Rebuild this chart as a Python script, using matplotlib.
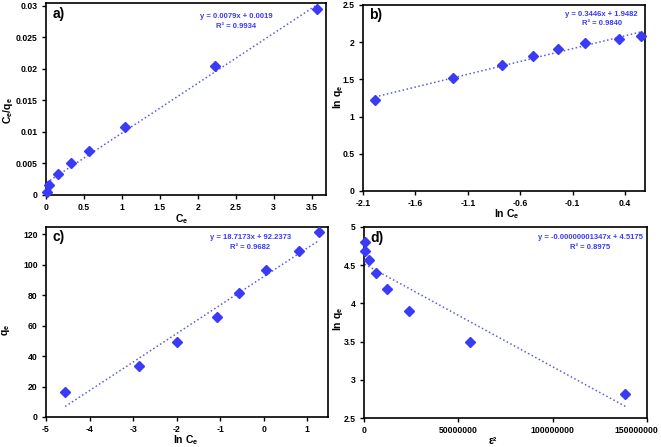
import numpy as np
import matplotlib
matplotlib.use("Agg")
import matplotlib.pyplot as plt
import matplotlib.transforms as mtrans

# Fonts
plt.rcParams['font.family'] = ['Liberation Sans', 'DejaVu Sans']
plt.rcParams['font.weight'] = 'bold'
plt.rcParams['mathtext.default'] = 'regular'

BLUE = "#3b3bf5"
LINE = "#5a5ae6"

# a) Langmuir: Ce/qe vs Ce
ce_a = [0.009, 0.046, 0.156, 0.33, 0.57, 1.04, 2.23, 3.57]
ceqe_a = [0.00055, 0.00166, 0.0033, 0.0050, 0.0070, 0.0108, 0.0204, 0.0294]
fit_a = (0.0079, 0.0019)
eq_a = ["y = 0.0079x + 0.0019", "R² = 0.9934"]
xt_a = [0, 0.5, 1, 1.5, 2, 2.5, 3, 3.5]
xl_a = ["0", "0.5", "1", "1.5", "2", "2.5", "3", "3.5"]
yt_a = [0, 0.005, 0.01, 0.015, 0.02, 0.025, 0.03]
yl_a = ["0", "0.005", "0.01", "0.015", "0.02", "0.025", "0.03"]

# b) Freundlich: ln qe vs ln Ce
x_b = [-1.985, -1.241, -0.773, -0.478, -0.241, 0.019, 0.342, 0.551]
y_b = [1.228, 1.523, 1.698, 1.819, 1.913, 1.985, 2.043, 2.088]
fit_b = (0.3446, 1.9482)
eq_b = ["y = 0.3446x + 1.9482", "R² = 0.9840"]
xt_b = [-2.1, -1.6, -1.1, -0.6, -0.1, 0.4]
xl_b = ["-2.1", "-1.6", "-1.1", "-0.6", "-0.1", "0.4"]
yt_b = [0, 0.5, 1, 1.5, 2, 2.5]
yl_b = ["0", "0.5", "1", "1.5", "2", "2.5"]

# c) Temkin: qe vs ln Ce
x_c = [-4.56, -2.86, -2.0, -1.08, -0.56, 0.04, 0.80, 1.27]
y_c = [16.6, 33.2, 49.4, 65.6, 81.5, 96.6, 108.9, 121.3]
fit_c = (18.7173, 92.2373)
eq_c = ["y = 18.7173x + 92.2373", "R² = 0.9682"]
xt_c = [-5, -4, -3, -2, -1, 0, 1]
xl_c = ["-5", "-4", "-3", "-2", "-1", "0", "1"]
yt_c = [0, 20, 40, 60, 80, 100, 120]
yl_c = ["0", "20", "40", "60", "80", "100", "120"]

# d) D-R: ln qe vs eps^2
x_d = [0.3e6, 0.6e6, 2.7e6, 6.2e6, 12.1e6, 24.1e6, 56.1e6, 138.6e6]
y_d = [4.80, 4.69, 4.57, 4.40, 4.19, 3.90, 3.50, 2.82]
fit_d = (-0.00000001347, 4.5175)
eq_d = ["y = -0.00000001347x + 4.5175", "R² = 0.8975"]
xt_d = [0, 50000000, 100000000, 150000000]
xl_d = ["0", "50000000", "100000000", "150000000"]
yt_d = [2.5, 3, 3.5, 4, 4.5, 5]
yl_d = ["2.5", "3", "3.5", "4", "4.5", "5"]

W, H = 661, 447


def make_axes(fig, l, r, t, b):
    return fig.add_axes([l / W, 1 - b / H, (r - l) / W, (b - t) / H])


def panel(ax, x, y, fit, eq, eq_pos, tag, xt, xl, yt, yl, xlim, ylim,
          xlabel, xlab_pos, ylabel, ylab_pos):
    ax.plot(x, y, linestyle="none", marker="D", ms=4.8, color=BLUE, zorder=3,
            clip_on=False)
    xs = np.array([min(x), max(x)])
    ax.plot(xs, fit[0] * xs + fit[1], linestyle=":", lw=1.1, color=LINE, zorder=2)
    ax.set_xlim(*xlim)
    ax.set_ylim(*ylim)
    ax.set_xticks(xt)
    ax.set_xticklabels(xl)
    ax.set_yticks(yt)
    ax.set_yticklabels(yl)
    ax.tick_params(direction="out", length=3, width=1, labelsize=6.2, pad=3)
    for lab in ax.get_xticklabels() + ax.get_yticklabels():
        lab.set_fontweight("bold")
    for s in ax.spines.values():
        s.set_linewidth(1.2)
    ax.text(eq_pos[0], eq_pos[1], eq[0], transform=ax.transAxes, ha="center",
            va="center", fontsize=5.5, color=BLUE, fontweight="bold")
    ax.text(eq_pos[0], eq_pos[1] - 0.05, eq[1], transform=ax.transAxes, ha="center",
            va="center", fontsize=5.5, color=BLUE, fontweight="bold")
    ax.text(0.022, 0.945, tag, transform=ax.transAxes, ha="left", va="center",
            fontsize=10, fontweight="bold")
    ax.text(xlab_pos[0], xlab_pos[1], xlabel, transform=ax.transAxes, ha="center",
            va="center", fontsize=7.5, fontweight="bold")
    ax.text(ylab_pos[0], ylab_pos[1], ylabel, transform=ax.transAxes, ha="center",
            va="center", fontsize=7.5, fontweight="bold", rotation=90)


fig = plt.figure(figsize=(6.61, 4.47), dpi=100)

ax_a = make_axes(fig, 46, 326, 3, 195)
panel(ax_a, ce_a, ceqe_a, fit_a, eq_a, (0.68, 0.93), "a)", xt_a, xl_a, yt_a, yl_a,
      (0, 3.69), (0, 0.0304), "C$_e$", (0.485, -0.125), "C$_e$/q$_e$", (-0.136, 0.44))

ax_b = make_axes(fig, 363, 645, 5, 191)
panel(ax_b, x_b, y_b, fit_b, eq_b, (0.846, 0.95), "b)", xt_b, xl_b, yt_b, yl_b,
      (-2.1, 0.59), (0, 2.5), "ln C$_e$", (0.51, -0.125), "ln q$_e$", (-0.089, 0.505))

ax_c = make_axes(fig, 46, 328, 227, 417)
panel(ax_c, x_c, y_c, fit_c, eq_c, (0.724, 0.944), "c)", xt_c, xl_c, yt_c, yl_c,
      (-5, 1.475), (0, 124.8), "ln C$_e$", (0.495, -0.124), "q$_e$", (-0.143, 0.458))

ax_d = make_axes(fig, 364, 647, 227, 418)
panel(ax_d, x_d, y_d, fit_d, eq_d, (0.80, 0.944), "d)", xt_d, xl_d, yt_d, yl_d,
      (0, 150000000), (2.5, 5), "ε²", (0.456, -0.122), "ln q$_e$", (-0.092, 0.518))

# last tick label of d is pulled left so it stays inside the figure
last = ax_d.get_xticklabels()[-1]
last.set_transform(last.get_transform() +
                   mtrans.ScaledTranslation(-11 / 100, 0, fig.dpi_scale_trans))

fig.savefig("out.png", dpi=100)
